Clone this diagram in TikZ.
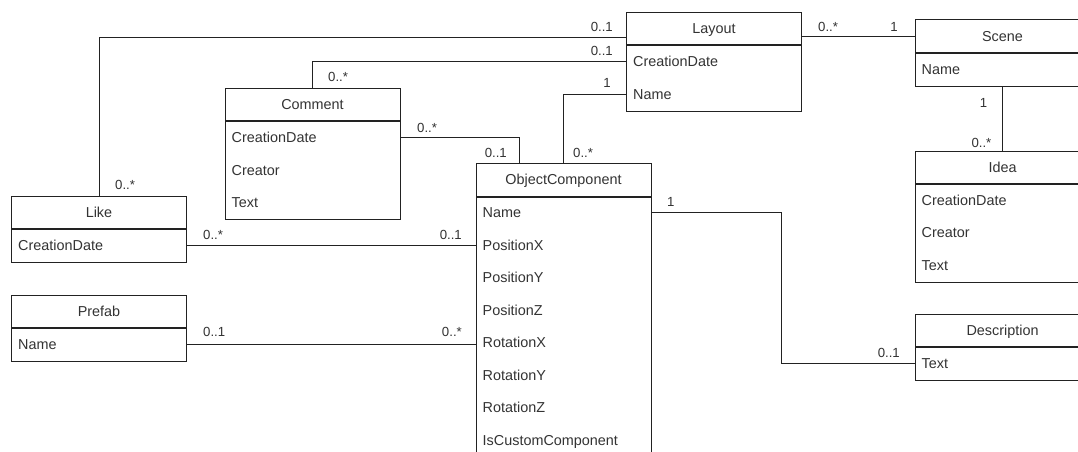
\documentclass[tikz,border=0pt]{standalone}
\usepackage{fontspec}
\setmainfont{Liberation Sans}
\usetikzlibrary{calc}
\definecolor{ln}{HTML}{222222}
\definecolor{tx}{HTML}{333333}
\tikzset{
  x=1pt, y=-1pt,
  hdr/.style={draw=ln, line width=1pt, minimum width=175pt, minimum height=32.5pt, inner sep=0pt,
    text=tx, font=\fontsize{14.4}{16}\selectfont, text height=10.3pt, text depth=0pt},
  bodybox/.style={draw=ln, line width=1pt, minimum width=175pt, inner sep=0pt, anchor=north},
  attr/.style={anchor=west, inner sep=0pt, text=tx, font=\fontsize{14.4}{16}\selectfont,
    text height=10.3pt, text depth=0pt},
  mult/.style={inner sep=0pt, text=tx, font=\fontsize{13.2}{15}\selectfont, text height=9.5pt, text depth=0pt},
  conn/.style={draw=ln, line width=1pt},
}
\begin{document}
\begin{tikzpicture}
\useasboundingbox (0,0) rectangle (1078,452);
\fill[white] (0,0) rectangle (1078,452);
\clip (0,0) rectangle (1078,452);

% Layout
\node[hdr] (layout) at (714,28.75) {Layout};
\node[bodybox, minimum height=65pt] (layoutB) at (layout.south) {};
\node[attr] (layout-cd) at ($(layoutB.north west)+(7,16.25)$) {CreationDate};
\node[attr] (layout-name) at ($(layoutB.north west)+(7,48.75)$) {Name};

% Scene
\node[hdr] (scene) at (1002.5,36.25) {Scene};
\node[bodybox, minimum height=32.5pt] (sceneB) at (scene.south) {};
\node[attr] (scene-name) at ($(sceneB.north west)+(7,16.25)$) {Name};

% Idea
\node[hdr] (idea) at (1002.5,167.25) {Idea};
\node[bodybox, minimum height=97.5pt] (ideaB) at (idea.south) {};
\node[attr] (idea-cd) at ($(ideaB.north west)+(7,16.25)$) {CreationDate};
\node[attr] (idea-cr) at ($(ideaB.north west)+(7,48.75)$) {Creator};
\node[attr] (idea-tx) at ($(ideaB.north west)+(7,81.25)$) {Text};

% Description
\node[hdr] (desc) at (1002.5,330.25) {Description};
\node[bodybox, minimum height=32.5pt] (descB) at (desc.south) {};
\node[attr] (desc-tx) at ($(descB.north west)+(7,16.25)$) {Text};

% Comment
\node[hdr] (comment) at (312.5,104.55) {Comment};
\node[bodybox, minimum height=97.5pt] (commentB) at (comment.south) {};
\node[attr] (comment-cd) at ($(commentB.north west)+(7,16.25)$) {CreationDate};
\node[attr] (comment-cr) at ($(commentB.north west)+(7,48.75)$) {Creator};
\node[attr] (comment-tx) at ($(commentB.north west)+(7,81.25)$) {Text};

% Like
\node[hdr] (like) at (99,212.25) {Like};
\node[bodybox, minimum height=32.5pt] (likeB) at (like.south) {};
\node[attr] (like-cd) at ($(likeB.north west)+(7,16.25)$) {CreationDate};

% Prefab
\node[hdr] (prefab) at (99,311.25) {Prefab};
\node[bodybox, minimum height=32.5pt] (prefabB) at (prefab.south) {};
\node[attr] (prefab-name) at ($(prefabB.north west)+(7,16.25)$) {Name};

% ObjectComponent
\node[hdr] (oc) at (563.5,179.75) {ObjectComponent};
\node[bodybox, minimum height=260pt] (ocB) at (oc.south) {};
\node[attr] (oc-name) at ($(ocB.north west)+(7,16.25)$) {Name};
\node[attr] (oc-px) at ($(ocB.north west)+(7,48.75)$) {PositionX};
\node[attr] (oc-py) at ($(ocB.north west)+(7,81.25)$) {PositionY};
\node[attr] (oc-pz) at ($(ocB.north west)+(7,113.75)$) {PositionZ};
\node[attr] (oc-rx) at ($(ocB.north west)+(7,146.25)$) {RotationX};
\node[attr] (oc-ry) at ($(ocB.north west)+(7,178.75)$) {RotationY};
\node[attr] (oc-rz) at ($(ocB.north west)+(7,211.25)$) {RotationZ};
\node[attr] (oc-ic) at ($(ocB.north west)+(7,243.75)$) {IsCustomComponent};

% helper coordinates
\coordinate (ocleft) at ($(oc.north)+(-44.5,0)$);
\coordinate (ocbend) at (781,0);

% connectors
\draw[conn] ([yshift=-9pt]layout.west) -| (like.north);
\draw[conn] (layout-cd -| layout.west) -| (comment.north);
\draw[conn] (layout-name -| layout.west) -| (oc.north);
\draw[conn] (scene.west) -- (scene.west -| layout.east);
\draw[conn] (sceneB.south) -- (idea.north);
\draw[conn] (comment-cd -| commentB.east) -| (ocleft);
\draw[conn] (like-cd -| likeB.east) -- (like-cd -| ocB.west);
\draw[conn] (prefab-name -| prefabB.east) -- (prefab-name -| ocB.west);
\draw[conn] (oc-name -| ocB.east) -- (oc-name -| ocbend) |- (desc-tx -| descB.west);

% multiplicities
\node[mult, anchor=east] (m1a) at (613,27) {0..1};
\node[mult, anchor=west] (m1b) at (115,185) {0..*};
\node[mult, anchor=east] (m2a) at (613,51) {0..1};
\node[mult, anchor=west] (m2b) at (328,77) {0..*};
\node[mult, anchor=east] (m3a) at (611,83) {1};
\node[mult, anchor=west] (m3b) at (573,153) {0..*};
\node[mult, anchor=west] (m4a) at (818,27) {0..*};
\node[mult, anchor=east] (m4b) at (898,27) {1};
\node[mult, anchor=east] (m5a) at (987.5,103) {1};
\node[mult, anchor=east] (m5b) at (991.5,143) {0..*};
\node[mult, anchor=west] (m6a) at (417,128) {0..*};
\node[mult, anchor=east] (m6b) at (507,153) {0..1};
\node[mult, anchor=west] (m7a) at (203,235) {0..*};
\node[mult, anchor=east] (m7b) at (462,235) {0..1};
\node[mult, anchor=west] (m8a) at (203,332) {0..1};
\node[mult, anchor=east] (m8b) at (462,332) {0..*};
\node[mult, anchor=west] (m9a) at (667,202) {1};
\node[mult, anchor=east] (m9b) at (900,353) {0..1};
\end{tikzpicture}
\end{document}
